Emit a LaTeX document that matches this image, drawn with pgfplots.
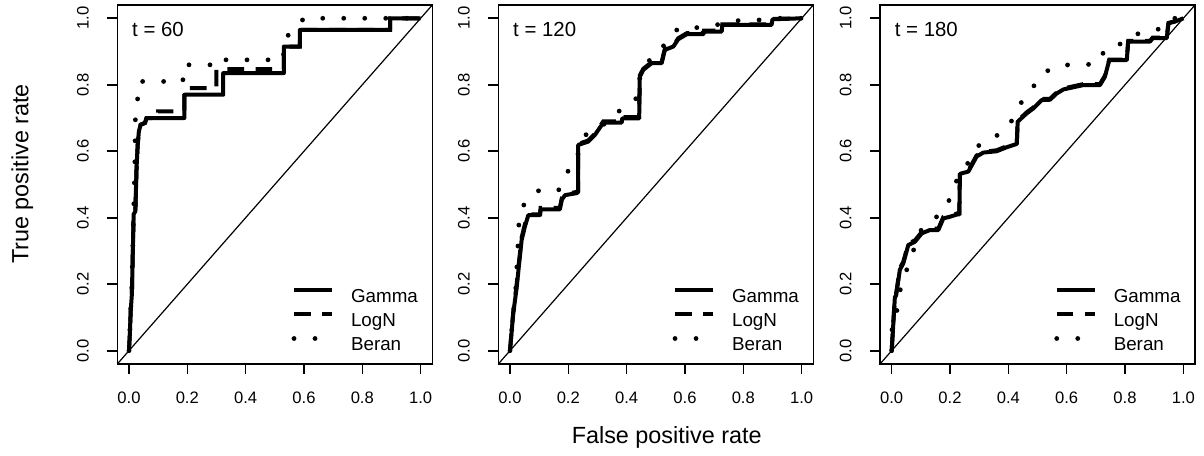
\documentclass[border=0pt]{standalone}
\usepackage{fontspec}
\setmainfont{Liberation Sans}
\usepackage{pgfplots}
\pgfplotsset{compat=1.18}

\pgfplotsset{
  rocax/.style={
    scale only axis, width=157.5pt, height=179.5pt,
    xmin=-0.04, xmax=1.04, ymin=-0.04, ymax=1.04,
    axis line style={line width=0.8pt, black},
    every tick/.style={line width=0.8pt, black},
    tick align=outside, major tick length=5pt,
    xtick={0,0.2,0.4,0.6,0.8,1}, ytick={0,0.2,0.4,0.6,0.8,1},
    xtick pos=bottom, ytick pos=left,
    /pgf/number format/.cd, fixed, fixed zerofill, precision=1, assume math mode=true, /pgfplots/.cd,
    tick label style={font=\fontsize{8.3}{10}\selectfont},
    xticklabel style={anchor=north, inner sep=0pt, yshift=-8.8pt},
    yticklabel style={xshift=-9pt, rotate=90, anchor=south, inner sep=0pt},
    legend image code/.code={\draw[##1] (0pt,3.3pt) -- (19pt,3.3pt); \path (0pt,0pt) (27.3pt,0pt);},
    legend cell align=left,
    legend style={draw=none, fill=none, at={(1,0)}, anchor=south east,
      xshift=-7pt, yshift=4.75pt, inner sep=0pt, row sep=3pt,
      nodes={inner sep=0pt, text height=7pt, text depth=2pt},
      font=\fontsize{9.4}{11}\selectfont},
  },
  gam/.style={black, line width=2pt, line join=round},
  lgn/.style={black, line width=2pt, dash pattern=on 8.3pt off 5.8pt},
  ber/.style={black, line width=2.4pt, line cap=round, dash pattern=on 0pt off 10.5pt},
  diag/.style={black, line width=0.6pt, forget plot},
}

\begin{document}
\begin{tikzpicture}
\useasboundingbox (0,0) rectangle (602pt,227.5pt);

% t = 60
\begin{axis}[rocax, at={(58.65pt,45.5pt)}, anchor=south west]
\addplot[diag] coordinates {(-0.04,-0.04) (1.04,1.04)};
\addplot[gam] coordinates {(0,0) (0.003,0.05) (0.006,0.12) (0.01,0.17) (0.013,0.29) (0.016,0.41) (0.022,0.42) (0.026,0.55) (0.03,0.62) (0.034,0.66) (0.04,0.68) (0.055,0.685) (0.06,0.70) (0.19,0.70) (0.19,0.77) (0.323,0.77) (0.323,0.835) (0.531,0.835) (0.531,0.915) (0.586,0.915) (0.586,0.965) (0.895,0.965) (0.895,1.0) (1,1)};
\addlegendentry{Gamma}
\addplot[lgn] coordinates {(0,0) (0.003,0.05) (0.006,0.12) (0.01,0.17) (0.013,0.29) (0.016,0.41) (0.022,0.42) (0.026,0.55) (0.03,0.62) (0.034,0.66) (0.04,0.68) (0.055,0.685) (0.06,0.70) (0.10,0.70) (0.10,0.72) (0.19,0.72) (0.19,0.79) (0.30,0.79) (0.30,0.847) (0.531,0.847) (0.531,0.915) (0.586,0.915) (0.586,0.965) (0.895,0.965) (0.895,1.0) (1,1)};
\addlegendentry{LogN}
\addplot[ber] coordinates {(0,0) (0.003,0.06) (0.006,0.13) (0.01,0.2) (0.013,0.3) (0.016,0.42) (0.02,0.55) (0.022,0.70) (0.03,0.76) (0.035,0.81) (0.185,0.81) (0.185,0.86) (0.30,0.86) (0.30,0.875) (0.53,0.875) (0.53,0.935) (0.57,0.97) (0.6,1.0) (1,1)};
\addlegendentry{Beran}
\node[anchor=west, inner sep=0pt, font=\fontsize{10.2}{12}\selectfont] at (rel axis cs:0.046,0.933) {t = 60};
\end{axis}

% t = 120
\begin{axis}[rocax, at={(249.15pt,45.5pt)}, anchor=south west]
\addplot[diag] coordinates {(-0.04,-0.04) (1.04,1.04)};
\addplot[gam] coordinates {(0,0) (0.011,0.11) (0.023,0.19) (0.03,0.25) (0.04,0.333) (0.051,0.373) (0.063,0.408) (0.103,0.408) (0.105,0.425) (0.171,0.425) (0.178,0.455) (0.189,0.468) (0.229,0.474) (0.234,0.478) (0.234,0.619) (0.268,0.629) (0.291,0.649) (0.32,0.686) (0.383,0.686) (0.385,0.699) (0.443,0.699) (0.445,0.824) (0.457,0.845) (0.486,0.865) (0.52,0.865) (0.531,0.905) (0.56,0.915) (0.577,0.937) (0.606,0.952) (0.663,0.952) (0.665,0.96) (0.726,0.96) (0.728,0.98) (0.897,0.98) (0.9,0.997) (1,1)};
\addlegendentry{Gamma}
\addplot[lgn] coordinates {(0,0) (0.011,0.115) (0.023,0.2) (0.03,0.26) (0.04,0.34) (0.051,0.38) (0.063,0.41) (0.103,0.41) (0.105,0.43) (0.171,0.43) (0.178,0.46) (0.189,0.47) (0.229,0.478) (0.234,0.48) (0.234,0.622) (0.268,0.632) (0.291,0.652) (0.32,0.69) (0.383,0.69) (0.385,0.703) (0.443,0.703) (0.445,0.828) (0.457,0.848) (0.486,0.868) (0.52,0.868) (0.531,0.908) (0.56,0.918) (0.577,0.94) (0.606,0.955) (0.663,0.955) (0.665,0.963) (0.726,0.963) (0.728,0.982) (0.897,0.982) (0.9,0.998) (1,1)};
\addlegendentry{LogN}
\addplot[ber] coordinates {(0,0) (0.01,0.1) (0.019,0.173) (0.026,0.29) (0.029,0.35) (0.032,0.408) (0.055,0.453) (0.097,0.481) (0.166,0.481) (0.189,0.532) (0.226,0.561) (0.235,0.6) (0.263,0.654) (0.333,0.686) (0.352,0.712) (0.40,0.731) (0.436,0.762) (0.445,0.82) (0.466,0.866) (0.512,0.893) (0.54,0.94) (0.581,0.972) (0.646,0.972) (0.707,0.98) (0.771,0.993) (0.836,0.993) (0.9,1.0) (1,1)};
\addlegendentry{Beran}
\node[anchor=west, inner sep=0pt, font=\fontsize{10.2}{12}\selectfont] at (rel axis cs:0.046,0.933) {t = 120};
\end{axis}

% t = 180
\begin{axis}[rocax, at={(440pt,45.5pt)}, anchor=south west]
\addplot[diag] coordinates {(-0.04,-0.04) (1.04,1.04)};
\addplot[gam] coordinates {(0,0) (0.003,0.042) (0.011,0.162) (0.015,0.165) (0.028,0.243) (0.04,0.263) (0.057,0.318) (0.08,0.328) (0.103,0.353) (0.131,0.363) (0.16,0.363) (0.177,0.398) (0.2,0.403) (0.225,0.41) (0.232,0.41) (0.234,0.532) (0.263,0.539) (0.291,0.584) (0.314,0.596) (0.36,0.6) (0.394,0.612) (0.429,0.622) (0.432,0.689) (0.463,0.714) (0.486,0.729) (0.514,0.754) (0.543,0.755) (0.566,0.774) (0.589,0.786) (0.657,0.799) (0.714,0.799) (0.731,0.824) (0.746,0.874) (0.806,0.874) (0.811,0.93) (0.886,0.93) (0.895,0.94) (0.943,0.94) (0.949,0.985) (0.971,0.99) (1,1)};
\addlegendentry{Gamma}
\addplot[lgn] coordinates {(0,0) (0.003,0.045) (0.011,0.165) (0.015,0.17) (0.028,0.248) (0.04,0.268) (0.057,0.322) (0.08,0.332) (0.103,0.357) (0.131,0.367) (0.16,0.367) (0.177,0.402) (0.2,0.407) (0.225,0.413) (0.232,0.413) (0.234,0.535) (0.263,0.542) (0.291,0.587) (0.314,0.598) (0.36,0.603) (0.394,0.615) (0.429,0.625) (0.432,0.692) (0.463,0.717) (0.486,0.732) (0.514,0.757) (0.543,0.758) (0.566,0.777) (0.589,0.789) (0.657,0.802) (0.714,0.802) (0.731,0.827) (0.746,0.876) (0.806,0.876) (0.811,0.932) (0.886,0.932) (0.895,0.942) (0.943,0.942) (0.949,0.986) (0.971,0.991) (1,1)};
\addlegendentry{LogN}
\addplot[ber] coordinates {(0,0) (0.002,0.1) (0.017,0.114) (0.025,0.17) (0.043,0.223) (0.065,0.275) (0.085,0.33) (0.106,0.373) (0.152,0.401) (0.192,0.438) (0.209,0.492) (0.268,0.574) (0.3,0.619) (0.352,0.642) (0.4,0.671) (0.425,0.717) (0.454,0.761) (0.487,0.796) (0.52,0.836) (0.575,0.859) (0.705,0.862) (0.735,0.912) (0.794,0.925) (0.834,0.952) (0.897,0.96) (0.943,0.98) (0.96,1.0) (1,1)};
\addlegendentry{Beran}
\node[anchor=west, inner sep=0pt, font=\fontsize{10.2}{12}\selectfont] at (rel axis cs:0.046,0.933) {t = 180};
\end{axis}

\node[anchor=base, inner sep=0pt, font=\fontsize{11.7}{14}\selectfont] at (333.35pt,5.85pt) {False positive rate};
\node[anchor=base, rotate=90, inner sep=0pt, font=\fontsize{11.7}{14}\selectfont] at (14.15pt,140.5pt) {True positive rate};
\end{tikzpicture}
\end{document}
